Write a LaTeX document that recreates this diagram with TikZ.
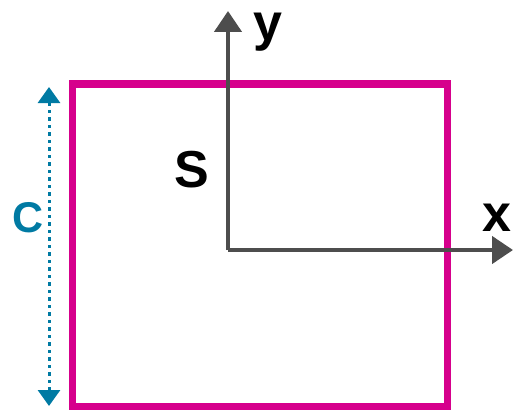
\documentclass[tikz,border=0pt]{standalone}
\usepackage{fontspec}
\setmainfont{Liberation Sans}
\usetikzlibrary{arrows.meta}
\definecolor{magentaC}{RGB}{214,0,140}
\definecolor{tealC}{RGB}{0,122,163}
\definecolor{axisC}{RGB}{77,77,77}
\tikzset{
  framebox/.style={draw=magentaC, line width=7pt, minimum width=375pt, minimum height=322pt, inner sep=0pt},
  axisline/.style={draw=axisC, line width=4.5pt, -{Triangle[length=21pt,width=27pt]}},
  dimline/.style={draw=tealC, line width=3pt, dash pattern=on 3.5pt off 4pt, {Triangle[length=16pt,width=22pt]}-{Triangle[length=16pt,width=22pt]}},
  biglabel/.style={font=\bfseries\fontsize{52}{52}\selectfont, text=black, inner sep=0pt},
  clabel/.style={font=\bfseries\fontsize{43}{43}\selectfont, text=tealC, inner sep=0pt}
}
\begin{document}
\begin{tikzpicture}[x=1pt,y=-1pt]
\useasboundingbox (0,0) rectangle (514,412);
\node[framebox] (sq) at (259.5,245) {};
\coordinate (O) at (228,250);
\coordinate (ytip) at (228,11);
\coordinate (xtip) at (513,250);
\draw[axisline] (O) -- (ytip);
\draw[axisline] (O) -- (xtip);
\coordinate (ctop) at (49,87);
\coordinate (cbot) at (49,406);
\draw[dimline] (ctop) -- (cbot);
\node[biglabel] (ylab) at (268,32) {y};
\node[biglabel] (xlab) at (497,218) {x};
\node[biglabel] (slab) at (192,170) {S};
\node[clabel] (clab) at (28,218) {C};
\end{tikzpicture}
\end{document}
